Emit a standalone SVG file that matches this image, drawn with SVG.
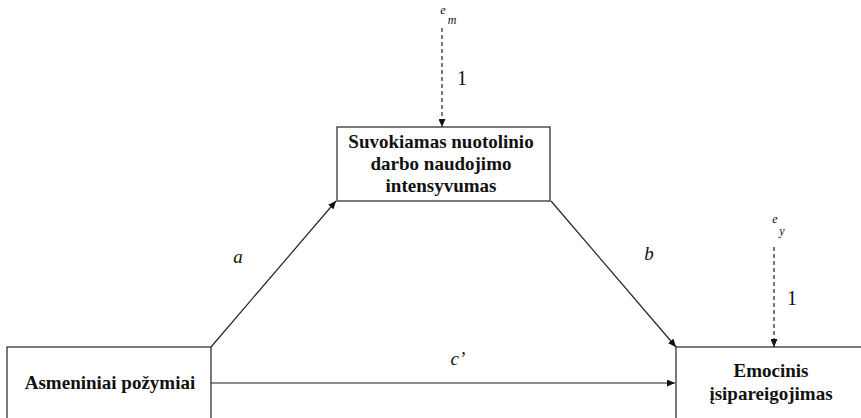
<svg xmlns="http://www.w3.org/2000/svg" width="861" height="418" viewBox="0 0 861 418">
  <defs>
    <marker id="arrow" markerWidth="8" markerHeight="7" refX="8" refY="3.5" orient="auto" markerUnits="userSpaceOnUse">
      <path d="M0,0 L8,3.5 L0,7 Z" fill="#111"/>
    </marker>
  </defs>
  <style>
    .box { fill: #fff; stroke: #222; stroke-width: 1.2; }
    .node-text { font-family: "Liberation Serif", "Times New Roman", serif; font-weight: bold; font-size: 19px; fill: #111; text-anchor: middle; }
    .edge { stroke: #222; stroke-width: 1.2; fill: none; marker-end: url(#arrow); }
    .dashed { stroke-dasharray: 4 3; }
    .lbl { font-family: "Liberation Serif", "Times New Roman", serif; font-style: italic; font-size: 19px; fill: #111; }
    .err { font-family: "Liberation Serif", "Times New Roman", serif; font-style: italic; font-size: 12px; fill: #111; }
    .one { font-family: "Liberation Serif", "Times New Roman", serif; font-size: 20px; fill: #111; }
  </style>
  <rect width="861" height="418" fill="#fff"/>

  <!-- connectors -->
  <g id="connectors">
    <line class="edge" x1="211" y1="347" x2="336" y2="201"/>
    <line class="edge" x1="551" y1="201" x2="676" y2="347"/>
    <line class="edge" x1="211" y1="383" x2="675" y2="383"/>
    <line class="edge dashed" x1="442" y1="28" x2="442" y2="127"/>
    <line class="edge dashed" x1="774" y1="247" x2="774" y2="347"/>
    <text class="lbl" x="238" y="263" text-anchor="middle">a</text>
    <text class="lbl" x="649" y="260" text-anchor="middle">b</text>
    <text class="lbl" x="458" y="365" text-anchor="middle">c’</text>
    <text class="one" x="462" y="85" text-anchor="middle">1</text>
    <text class="one" x="792" y="305" text-anchor="middle">1</text>
  </g>

  <!-- error terms -->
  <g id="error-m">
    <text class="err" x="443" y="14" text-anchor="middle">e</text>
    <text class="err" x="452" y="24" text-anchor="middle">m</text>
  </g>
  <g id="error-y">
    <text class="err" x="775" y="223" text-anchor="middle">e</text>
    <text class="err" x="782" y="235" text-anchor="middle">y</text>
  </g>

  <!-- mediator -->
  <g id="node-mediator">
    <rect class="box" x="337" y="127" width="213" height="74"/>
    <text class="node-text" x="441" y="148">Suvokiamas nuotolinio</text>
    <text class="node-text" x="441" y="170">darbo naudojimo</text>
    <text class="node-text" x="441" y="192">intensyvumas</text>
  </g>

  <!-- predictor -->
  <g id="node-predictor">
    <rect class="box" x="7" y="347" width="204" height="80"/>
    <text class="node-text" x="110" y="389">Asmeniniai požymiai</text>
  </g>

  <!-- outcome -->
  <g id="node-outcome">
    <rect class="box" x="676" y="347" width="200" height="80"/>
    <text class="node-text" x="771" y="377">Emocinis</text>
    <text class="node-text" x="771" y="400">įsipareigojimas</text>
  </g>
</svg>
